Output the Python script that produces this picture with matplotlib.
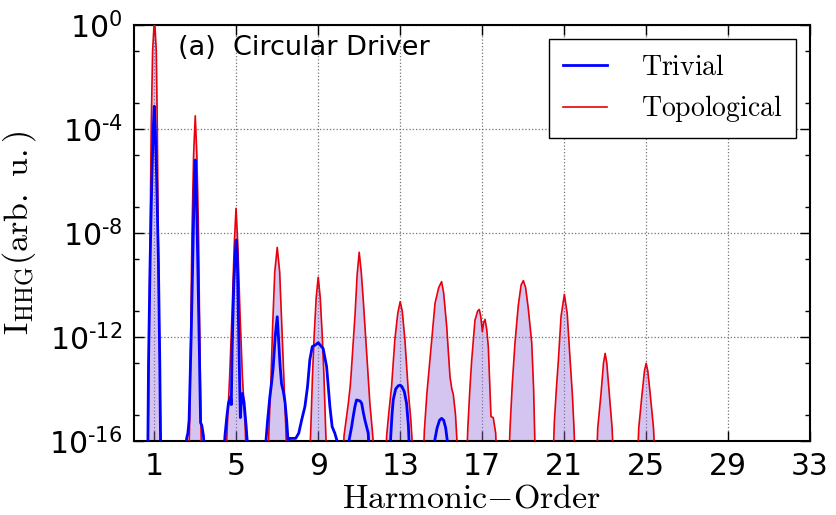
#!/usr/bin/env python3
"""HHG spectrum, circular driver: trivial vs topological phase."""

import matplotlib
matplotlib.use("Agg")
import matplotlib.pyplot as plt
import numpy as np
from matplotlib.font_manager import FontProperties
from matplotlib.ticker import FixedLocator, NullFormatter

# vertices: harmonic order, log10 intensity
topo_h = [
    0.0, 0.66, 0.70, 0.75, 0.80, 0.85, 0.92, 1.01, 1.10, 1.15, 1.19, 1.25, 1.31, 1.35,
    2.68, 2.72, 2.78, 2.84, 2.92, 3.00, 3.08, 3.16, 3.22, 3.28, 3.32,
    4.50, 4.56, 4.68, 4.80, 4.90, 4.99, 5.08, 5.18, 5.30, 5.44, 5.50,
    6.54, 6.60, 6.70, 6.78, 6.88, 7.00, 7.12, 7.22, 7.32, 7.42, 7.48,
    8.57, 8.64, 8.72, 8.80, 8.90, 9.00, 9.10, 9.20, 9.28, 9.36, 9.43,
    10.20, 10.26, 10.47, 10.56, 10.60, 10.70, 10.80, 10.90, 11.00, 11.10, 11.20, 11.30,
    11.42, 11.52, 11.64, 11.78,
    12.28, 12.34, 12.46, 12.58, 12.74, 12.88, 13.00, 13.10, 13.23, 13.39, 13.52, 13.66,
    14.11, 14.18, 14.30, 14.45, 14.70, 14.88, 15.02, 15.12, 15.27, 15.43, 15.52, 15.59,
    15.70, 15.84,
    16.23, 16.30, 16.40, 16.49, 16.65, 16.78, 16.86, 16.93, 17.01, 17.07, 17.14, 17.22,
    17.30, 17.37, 17.43, 17.54, 17.66, 17.72,
    18.29, 18.36, 18.47, 18.60, 18.76, 18.90, 19.01, 19.12, 19.25, 19.42, 19.51, 19.60,
    20.45, 20.52, 20.62, 20.72, 20.85, 21.01, 21.15, 21.29, 21.40, 21.48, 21.55,
    22.57, 22.64, 22.80, 22.92, 23.00, 23.08, 23.20, 23.34, 23.42,
    24.57, 24.64, 24.80, 24.92, 25.00, 25.08, 25.20, 25.36, 25.45, 33.0,
]
topo_log = [
    -17, -17, -15.5, -12, -8, -4, -1, 0.3, -1, -4, -8, -12, -15.5, -17,
    -17, -15.5, -12, -8, -5, -3.49, -5, -8, -12, -15.5, -17,
    -17, -15.5, -13.5, -11, -8.5, -7.05, -8.5, -11, -13.5, -15.5, -17,
    -17, -15.5, -13.5, -11.5, -9.5, -8.55, -9.5, -11.5, -13.5, -15.5, -17,
    -17, -15.5, -13.5, -12, -10.5, -9.70, -10.5, -12, -13.5, -15.5, -17,
    -17, -15.8, -14.55, -13.9, -13.5, -12.3, -11.1, -9.6, -8.74, -9.5, -10.6, -11.8,
    -13.3, -14.55, -15.6, -17,
    -17, -15.8, -14.8, -13.9, -12.1, -11.1, -10.64, -11.0, -12.1, -14.04, -15.2, -17,
    -17, -15.6, -14.2, -12.88, -10.7, -10.1, -9.87, -10.3, -11.6, -13.53, -14.0, -14.2,
    -15.0, -17,
    -17, -15.5, -14.0, -12.88, -11.35, -11.0, -10.94, -11.2, -11.8, -11.45, -11.32, -11.7,
    -12.37, -13.8, -15.06, -15.1, -15.7, -17,
    -17, -15.5, -13.8, -12.24, -10.8, -10.0, -9.83, -10.1, -10.9, -12.24, -14.0, -17,
    -17, -15.3, -14.0, -12.88, -11.2, -10.36, -11.1, -12.88, -14.2, -15.5, -17,
    -17, -15.5, -14.17, -13.0, -12.63, -13.0, -14.17, -15.5, -17,
    -17, -15.5, -14.2, -13.3, -13.01, -13.3, -14.2, -15.5, -17, -17,
]

triv_h = [
    0.0, 0.68, 0.70, 0.72, 0.80, 0.88, 0.95, 1.00, 1.05, 1.12, 1.20, 1.27, 1.30, 1.32,
    2.50, 2.58, 2.64, 2.70, 2.80, 2.88, 2.95, 3.00, 3.05, 3.12, 3.20, 3.26, 3.32, 3.40, 3.50,
    4.36, 4.45, 4.55, 4.62, 4.72, 4.76, 4.80, 4.88, 4.95, 5.00, 5.05, 5.10, 5.16, 5.20,
    5.24, 5.30, 5.38, 5.48, 5.58, 5.64,
    6.36, 6.42, 6.52, 6.64, 6.72, 6.80, 6.90, 7.00, 7.06, 7.13, 7.21, 7.30, 7.38, 7.46,
    7.53, 7.58,
    7.62, 7.90, 8.05, 8.19, 8.35, 8.48, 8.59, 8.71, 8.87, 9.00, 9.16, 9.24, 9.41, 9.50,
    9.57, 9.68, 9.81, 9.92, 9.98,
    10.44, 10.50, 10.63, 10.72, 10.79, 10.87, 11.04, 11.12, 11.20, 11.28, 11.44, 11.52,
    12.48, 12.54, 12.60, 12.66, 12.78, 12.90, 12.99, 13.08, 13.20, 13.31, 13.40, 13.48,
    14.60, 14.68, 14.80, 14.92, 15.02, 15.12, 15.22, 15.30, 15.36, 33.0,
]
triv_log = [
    -17, -17, -15, -13, -9, -6, -4, -3.12, -4, -6, -9, -13, -15.5, -17,
    -17, -15.9, -15.7, -15.2, -12, -9, -6.2, -5.19, -6.2, -9, -12.5, -15.3, -15.4, -15.8, -17,
    -17, -15.8, -15.0, -14.55, -14.3, -14.6, -12.5, -10.0, -8.8, -8.27, -8.9, -11.0, -13.5, -15.1,
    -14.6, -14.17, -14.5, -15.4, -16.5, -17,
    -17, -16.3, -15.3, -14.3, -13.8, -13.2, -12.0, -11.22, -12.0, -13.0, -13.8, -14.1, -14.5, -15.2,
    -16.0, -15.9,
    -15.9, -15.9, -15.7, -15.2, -14.68, -13.9, -12.88, -12.37, -12.3, -12.22, -12.37, -12.44, -13.14, -14.0,
    -14.68, -15.45, -15.7, -16.0, -17,
    -17, -16.0, -15.45, -15.0, -14.68, -14.42, -14.46, -14.55, -14.9, -15.2, -15.7, -17,
    -17, -15.8, -15.0, -14.42, -14.0, -13.88, -13.85, -13.9, -14.1, -14.55, -15.4, -17,
    -17, -16.0, -15.5, -15.2, -15.13, -15.2, -15.5, -16.0, -17, -17,
]

x_ticks = [1, 5, 9, 13, 17, 21, 25, 29, 33]
y_exps = [0, -4, -8, -12, -16]

cm = FontProperties(size=24.5, math_fontfamily="cm")


def exp_label(e):
    # short hyphen in the exponent, as in the original figure
    s = str(e).replace("-", "\u2010")
    return r"$10^{%s}$" % s


def main() -> int:
    topo = 10.0 ** np.array(topo_log)
    triv = 10.0 ** np.array(triv_log)

    fig = plt.figure(figsize=(8.36, 5.15), dpi=100)
    ax = fig.add_axes([0.160, 0.1437, 0.809, 0.8076])

    ax.fill_between(topo_h, topo, 1e-18, color="mediumpurple", alpha=0.4, lw=0, zorder=1)
    ax.plot(topo_h, topo, color="#e8000b", lw=1.2, label=r"$\mathrm{Topological}$", zorder=3)
    ax.plot(triv_h, triv, color="#0000ff", lw=2.0, label=r"$\mathrm{Trivial}$", zorder=4)

    ax.set_yscale("log")
    ax.set_xlim(0, 33)
    ax.set_ylim(1e-16, 1e0)

    ax.set_xticks(x_ticks)
    ax.set_xticklabels([str(t) for t in x_ticks])
    ax.yaxis.set_major_locator(FixedLocator([10.0 ** e for e in y_exps]))
    ax.yaxis.set_major_formatter(plt.FixedFormatter([exp_label(e) for e in y_exps]))
    ax.yaxis.set_minor_locator(FixedLocator([10.0 ** e for e in range(-15, 0, 2)]))
    ax.yaxis.set_minor_formatter(NullFormatter())

    ax.tick_params(which="both", direction="in", top=True, right=True, labelsize=21.5)
    ax.tick_params(which="major", length=7, width=1, pad=8)
    ax.tick_params(which="minor", length=3.5, width=1)
    for s in ax.spines.values():
        s.set_linewidth(1.5)

    ax.grid(True, which="major", ls=":", color="0.45", lw=0.9)
    ax.set_axisbelow(True)

    ax.set_xlabel(r"$\mathrm{Harmonic{-}Order}$", fontproperties=cm)
    ax.set_ylabel(r"$\mathrm{I_{HHG}(arb.\ u.)}$", fontproperties=cm)
    ax.xaxis.set_label_coords(0.5, -0.098)
    ax.yaxis.set_label_coords(-0.142, 0.5)

    ax.text(0.065, 0.945, "(a)  Circular Driver", transform=ax.transAxes,
            fontsize=19.5, ha="left", va="center")

    h, l = ax.get_legend_handles_labels()
    leg = ax.legend(h[::-1], l[::-1], loc="upper right",
                    prop=FontProperties(size=20, math_fontfamily="cm"),
                    fancybox=False, framealpha=1, edgecolor="k", borderaxespad=0.5,
                    handlelength=1.6, handletextpad=1.2, borderpad=0.5, labelspacing=0.45)
    leg.get_frame().set_linewidth(1.0)

    fig.savefig("out.png", dpi=100)
    plt.close(fig)
    return 0


if __name__ == "__main__":
    main()
